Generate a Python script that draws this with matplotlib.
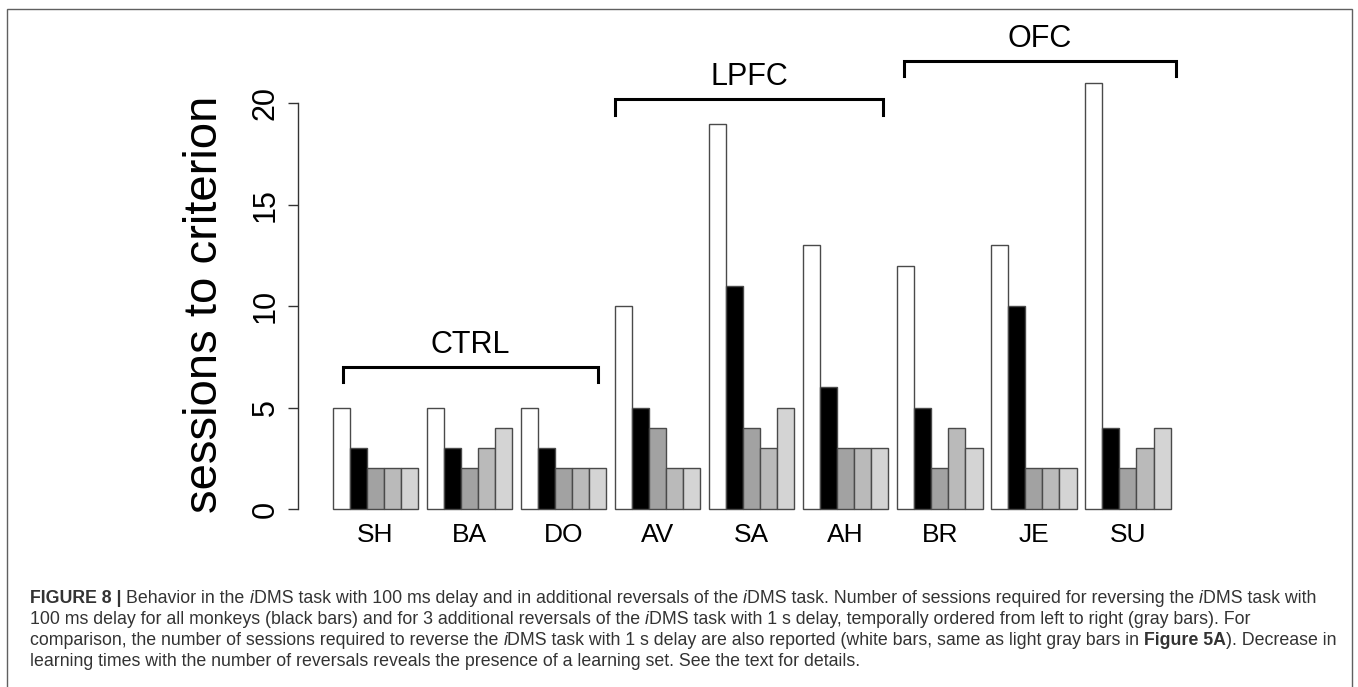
import matplotlib
matplotlib.use('Agg')
import matplotlib.pyplot as plt
from matplotlib.patches import Rectangle

plt.rcParams['font.family'] = ['Liberation Sans', 'DejaVu Sans']

# data
monkeys = ['SH', 'BA', 'DO', 'AV', 'SA', 'AH', 'BR', 'JE', 'SU']
delay_1s = [5, 5, 5, 10, 19, 13, 12, 13, 21]        # white bars
delay_100ms = [3, 3, 3, 5, 11, 6, 5, 10, 4]         # black bars
reversal_1 = [2, 2, 2, 4, 4, 3, 2, 2, 2]            # gray bars, in order
reversal_2 = [2, 3, 2, 2, 3, 3, 4, 2, 3]
reversal_3 = [2, 4, 2, 2, 5, 3, 3, 2, 4]
group_names = ['CTRL', 'LPFC', 'OFC']
group_members = [(0, 2), (3, 5), (6, 8)]

# style
W, H = 1358, 687
bar_colors = ['white', 'black', '#a2a2a2', '#bababa', '#d4d4d4']
bracket_levels = [7.0, 20.2, 22.1]
bracket_pad = [(0.6, -0.5), (0.0, -0.3), (0.4, 0.3)]   # offsets from outer bar edges
bracket_drop = 0.75
n_bars = 5
group_step = n_bars + 0.5

fig = plt.figure(figsize=(W / 100, H / 100), dpi=100)

# axes placed so that y=0 sits at 509 px and y=20 at 103 px from the top
ax_l, ax_r, ax_t, ax_b = 298, 1200, 30, 509
ax = fig.add_axes([ax_l / W, 1 - ax_b / H, (ax_r - ax_l) / W, (ax_b - ax_t) / H])
px_per_unit = (509 - 103.4) / 20
ax.set_ylim(0, (ax_b - ax_t) / px_per_unit)
bar_px = 17.1
first_left = 332.7
x0 = 0.5 - (first_left - ax_l) / bar_px
ax.set_xlim(x0, x0 + (ax_r - ax_l) / bar_px)

series = [delay_1s, delay_100ms, reversal_1, reversal_2, reversal_3]
centers = [0.5 + g * group_step + n_bars / 2 for g in range(len(monkeys))]
for j, vals in enumerate(series):
    xs = [0.5 + g * group_step + j + 0.5 for g in range(len(monkeys))]
    ax.bar(xs, vals, width=1.0, color=bar_colors[j], edgecolor='#4a4a4a',
           linewidth=1.0, clip_on=False)

for s in ['top', 'right', 'bottom']:
    ax.spines[s].set_visible(False)
ax.spines['left'].set_bounds(0, 20)
ax.spines['left'].set_color('#333333')
ax.spines['left'].set_linewidth(1.0)
ax.set_yticks([0, 5, 10, 15, 20])
ax.set_yticklabels(['0', '5', '10', '15', '20'], rotation=90, va='center')
ax.tick_params(axis='y', length=7.5, width=1.0, color='#333333', labelsize=22, pad=5)
ax.set_xticks(centers)
ax.set_xticklabels(monkeys)
ax.tick_params(axis='x', length=0, labelsize=19, pad=10)

# group brackets
for name, (a, b), lev, (pl, pr) in zip(group_names, group_members, bracket_levels, bracket_pad):
    xl = 0.5 + a * group_step + pl
    xr = 0.5 + b * group_step + n_bars + pr
    ax.plot([xl, xl, xr, xr], [lev - bracket_drop, lev, lev, lev - bracket_drop],
            color='black', lw=2.2, clip_on=False, solid_joinstyle='miter')
    ax.text((xl + xr) / 2, lev + 0.35, name, ha='center', va='bottom', fontsize=22)

fig.text(205 / W, 1 - 304 / H, 'sessions to criterion', rotation=90,
         ha='center', va='center', fontsize=34)

# outer frame
fig.add_artist(Rectangle((7 / W, -0.02), (1352 - 7) / W, 1.02 - 9 / H,
                         transform=fig.transFigure, fill=False,
                         edgecolor='#606060', lw=1.0))

# caption, drawn run by run so bold and italic parts can be mixed
caption = [
    [('FIGURE 8 | ', 'bold', 'normal'), ('Behavior in the ', 'normal', 'normal'),
     ('i', 'normal', 'italic'), ('DMS task with 100 ms delay and in additional reversals of the ', 'normal', 'normal'),
     ('i', 'normal', 'italic'), ('DMS task. Number of sessions required for reversing the ', 'normal', 'normal'),
     ('i', 'normal', 'italic'), ('DMS task with', 'normal', 'normal')],
    [('100 ms delay for all monkeys (black bars) and for 3 additional reversals of the ', 'normal', 'normal'),
     ('i', 'normal', 'italic'), ('DMS task with 1 s delay, temporally ordered from left to right (gray bars). For', 'normal', 'normal')],
    [('comparison, the number of sessions required to reverse the ', 'normal', 'normal'),
     ('i', 'normal', 'italic'), ('DMS task with 1 s delay are also reported (white bars, same as light gray bars in ', 'normal', 'normal'),
     ('Figure 5A', 'bold', 'normal'), ('). Decrease in', 'normal', 'normal')],
    [('learning times with the number of reversals reveals the presence of a learning set. See the text for details.', 'normal', 'normal')],
]
cap_size = 12.8
baselines = [603, 624, 645, 666]
renderer = fig.canvas.get_renderer()
for runs, yb in zip(caption, baselines):
    x = 30
    for txt, weight, style in runs:
        t = fig.text(x, H - yb, txt, transform=None, fontsize=cap_size,
                     fontweight=weight, fontstyle=style, color='#333333',
                     va='baseline', ha='left')
        x += t.get_window_extent(renderer).width

fig.savefig('out.png', dpi=100)
